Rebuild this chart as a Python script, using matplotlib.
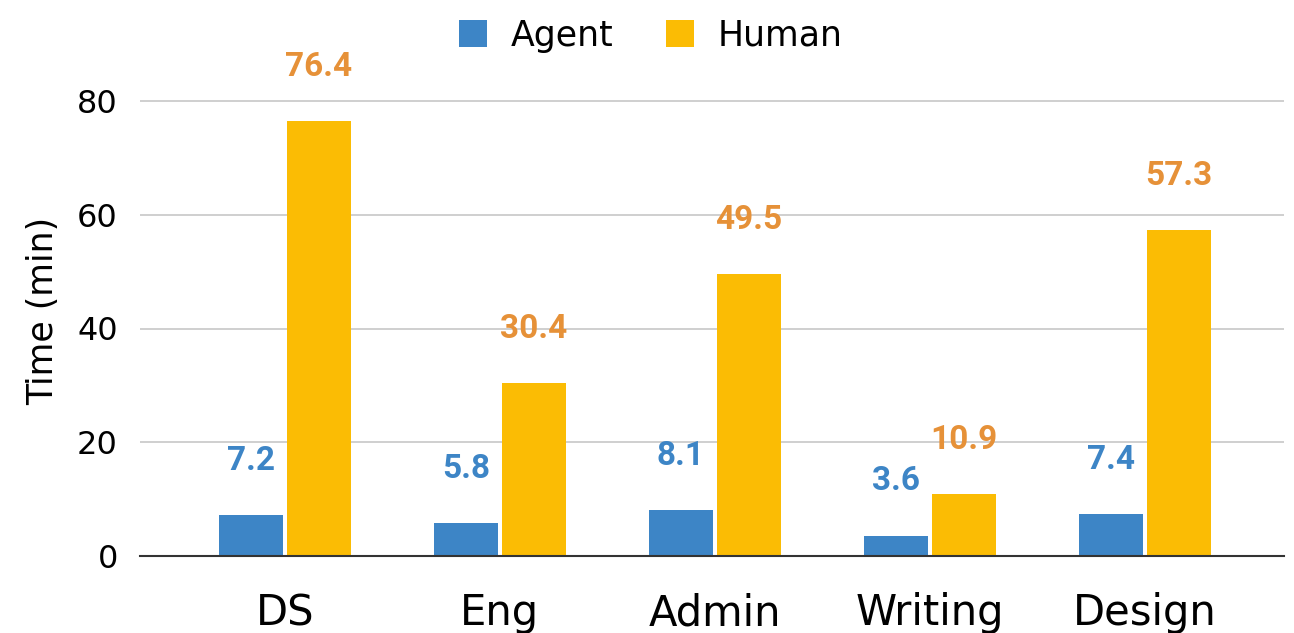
import matplotlib.pyplot as plt
import numpy as np

categories = ["DS", "Eng", "Admin", "Writing", "Design"]
agent = [7.2, 5.8, 8.1, 3.6, 7.4]
human = [76.4, 30.4, 49.5, 10.9, 57.3]

blue = "#3d85c6"
yellow = "#fbbc04"
orange = "#e69138"

fig = plt.figure(figsize=(12.94, 6.33), dpi=100)
ax = fig.add_axes([140 / 1294, 1 - 556 / 633, 1144 / 1294, 490 / 633])

x = np.arange(len(categories))
w = 0.30
gap = 0.008
b1 = ax.bar(x - w / 2 - gap, agent, w, color=blue, label="Agent", zorder=3)
b2 = ax.bar(x + w / 2 + gap, human, w, color=yellow, label="Human", zorder=3)

for bars, col in ((b1, blue), (b2, orange)):
    for r in bars:
        ax.annotate(f"{r.get_height():.1f}", (r.get_x() + r.get_width() / 2, r.get_height()),
                    xytext=(0, 39), textcoords="offset points", ha="center", va="center",
                    fontsize=24, fontweight="bold", color=col, family="Roboto",
                    annotation_clip=False, zorder=4)

ax.set_xlim(-0.674, 4.647)
ax.set_ylim(0, 80 * 490 / 455)
ax.set_yticks([0, 20, 40, 60, 80])
ax.set_xticks(x)
ax.set_xticklabels(categories, fontsize=30)
ax.tick_params(axis="y", labelsize=23, length=0, pad=16)
ax.tick_params(axis="x", length=0, pad=26)
ax.yaxis.grid(True, color="#cccccc", linewidth=1.3, zorder=0)
for s in ("top", "right", "left"):
    ax.spines[s].set_visible(False)
ax.spines["bottom"].set_color("#333333")
ax.spines["bottom"].set_linewidth(1.5)
ax.spines["bottom"].set_zorder(5)
ax.set_ylabel("Time (min)", fontsize=25, labelpad=12)

fig.legend(loc="upper center", bbox_to_anchor=(0.503, 1.02), ncol=2, frameon=False,
           fontsize=25, handlelength=0.8, handleheight=0.8, handletextpad=0.7,
           columnspacing=1.5)

fig.savefig("out.png", dpi=100)
